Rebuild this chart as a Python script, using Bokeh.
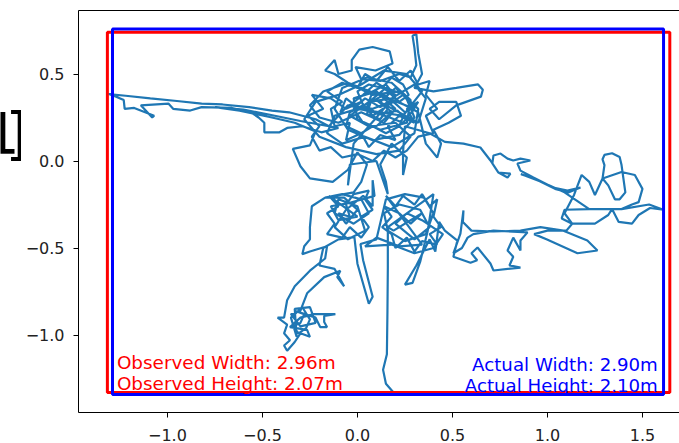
from bokeh.plotting import figure
from bokeh.layouts import row
from bokeh.models import Range1d, FixedTicker, CustomJSTickFormatter, LinearAxis
from bokeh.embed import file_html
from bokeh.resources import INLINE
from bokeh.core.properties import value

# ---- data ----
xticks = [-1.0, -0.5, 0.0, 0.5, 1.0, 1.5]
yticks = [-1.0, -0.5, 0.0, 0.5]

# observed room (red) and actual room (blue): left, bottom, width, height
obs_room = [-1.316, -1.330, 2.96, 2.07]
act_room = [-1.289, -1.342, 2.90, 2.10]

obs_labels = ["Observed Width: 2.96m", "Observed Height: 2.07m"]
act_labels = ["Actual Width: 2.90m", "Actual Height: 2.10m"]

# cropped page fragment shown at the left edge of the picture
fragment = ["1", "]"]

# trajectory, segment by segment (x, y in metres)
core = [(0.05,0.33),(0.15,0.42),(0.25,0.38),(0.30,0.25),(0.22,0.15),(0.08,0.12),(-0.05,0.18),(-0.12,0.30),
        (-0.08,0.42),(0.05,0.48),(0.18,0.45),(0.28,0.35),(0.26,0.22),(0.12,0.18),(0.00,0.24),(-0.02,0.36),
        (0.10,0.40),(0.20,0.30),(0.14,0.22),(0.02,0.28),(-0.10,0.22),(-0.20,0.25),(-0.25,0.32),(-0.18,0.40),
        (-0.05,0.45),(0.08,0.38),(0.22,0.40),(0.32,0.30),(0.30,0.16),(0.18,0.08),(0.04,0.14),(-0.08,0.10),
        (-0.16,0.16),(-0.12,0.26),(0.00,0.30),(0.12,0.28),(0.24,0.26),(0.34,0.40),(0.26,0.50),(0.14,0.52),
        (0.02,0.44),(-0.10,0.38),(-0.22,0.34),(-0.28,0.24),(-0.20,0.14),(-0.06,0.08),(0.10,0.04),(0.22,0.06),
        (0.28,0.14),(0.20,0.22),(0.06,0.20),(-0.04,0.26),(0.06,0.34),(0.18,0.36),(0.30,0.44),(0.36,0.36),
        (0.32,0.22)]
core2 = [(0.10,0.35),(0.16,0.30),(0.12,0.24),(0.05,0.27),(0.07,0.34),(0.14,0.38),(0.20,0.33),(0.25,0.28),
         (0.22,0.20),(0.15,0.16),(0.08,0.20),(0.02,0.16),(-0.06,0.20),(-0.04,0.28),(0.03,0.32),(0.00,0.40),
         (0.06,0.44),(0.13,0.42),(0.18,0.48),(0.24,0.44),(0.27,0.38),(0.22,0.34),(0.16,0.40),(0.10,0.45),
         (0.03,0.38),(-0.03,0.33),(-0.09,0.28),(-0.06,0.36),(0.01,0.30),(0.09,0.28),(0.17,0.25),(0.24,0.22),
         (0.30,0.30),(0.27,0.36),(0.20,0.42),(0.12,0.34),(0.18,0.28),(0.10,0.20),(0.03,0.22),(-0.02,0.30),
         (0.04,0.36),(0.12,0.31),(0.20,0.37),(0.15,0.44),(0.08,0.40),(0.05,0.31),(0.11,0.27),(0.21,0.29),
         (0.26,0.24),(0.32,0.34)]
core3 = [(0.26,0.30),(0.30,0.22),(0.22,0.26),(0.16,0.20),(0.20,0.12),(0.12,0.15),(0.06,0.08),(0.02,0.16),
         (-0.06,0.12),(-0.04,0.22),(-0.12,0.20),(-0.14,0.30),(-0.08,0.34),(-0.16,0.40),(-0.08,0.45),
         (0.00,0.42),(0.04,0.50),(0.10,0.46),(0.16,0.54),(0.22,0.46),(0.28,0.52),(0.32,0.44),(0.38,0.46),
         (0.36,0.38),(0.42,0.30),(0.36,0.26),(0.40,0.16),(0.32,0.14),(0.26,0.06),(0.20,0.02),(0.14,0.06),
         (0.08,0.00),(0.00,0.04),(-0.08,0.02),(-0.14,0.08),(-0.20,0.06),(-0.24,0.14),(-0.20,0.20),
         (-0.26,0.26),(-0.18,0.30),(-0.24,0.38),(-0.14,0.36),(-0.06,0.30),(0.02,0.34),(0.08,0.26),
         (0.16,0.32),(0.24,0.38),(0.30,0.30)]
top = [(-0.05,0.45),(-0.12,0.50),(-0.17,0.52),(-0.12,0.58),(-0.10,0.50),(-0.03,0.52),(-0.03,0.58),(0.01,0.64),
       (0.08,0.655),(0.17,0.63),(0.185,0.56),(0.095,0.52),(-0.01,0.54),(0.02,0.47),(0.12,0.46),(0.22,0.50),
       (0.28,0.48),(0.31,0.55),(0.30,0.65),(0.29,0.72),(0.31,0.73),(0.32,0.62),(0.34,0.50),(0.30,0.42)]
rloop = [(0.40,0.40),(0.52,0.42),(0.635,0.44),(0.66,0.41),(0.65,0.37),(0.52,0.32),(0.43,0.24),(0.38,0.30),
         (0.43,0.34),(0.52,0.34),(0.545,0.26),(0.48,0.22),(0.40,0.18),(0.44,0.10),(0.42,0.02),(0.36,0.10),
         (0.32,0.28),(0.20,0.35),(0.08,0.30),(-0.05,0.32),(-0.15,0.20),(-0.22,0.24)]
larm = [(-0.29,0.26),(-0.36,0.28),(-0.45,0.29),(-0.57,0.31),(-0.71,0.325),(-0.82,0.33),(-0.95,0.345),
        (-1.09,0.36),(-1.22,0.375),(-1.31,0.385),(-1.27,0.37),(-1.23,0.35),(-1.225,0.30),(-1.175,0.305),
        (-1.07,0.26),(-1.08,0.25),(-1.14,0.32),(-0.995,0.33),(-0.97,0.30),(-0.88,0.29),(-0.82,0.31),
        (-0.66,0.305),(-0.56,0.28),(-0.52,0.25),(-0.49,0.22),(-0.49,0.165),(-0.41,0.165),(-0.37,0.19),
        (-0.29,0.20),(-0.19,0.165),(-0.10,0.19),(-0.30,0.23),(-0.48,0.27),(-0.60,0.295),(-0.75,0.31),
        (-0.62,0.29),(-0.45,0.25),(-0.33,0.22),(-0.22,0.17)]
ll = [(-0.25,0.09),(-0.34,0.07),(-0.30,-0.03),(-0.25,-0.10),(-0.13,-0.12),(-0.05,-0.05),(0.0,0.05),
      (0.05,-0.02),(0.02,-0.12),(-0.02,-0.18)]
b1 = [(-0.17,-0.21),(-0.08,-0.19),(0.02,-0.22),(0.06,-0.30),(-0.02,-0.36),(-0.12,-0.30),(-0.10,-0.22),
      (0.00,-0.26),(0.04,-0.40),(-0.05,-0.45),(-0.12,-0.38),(-0.06,-0.28),(0.03,-0.20),(0.08,-0.26),
      (0.08,-0.11),(0.09,-0.20),(-0.04,-0.24),(-0.14,-0.26),(-0.10,-0.34),(0.00,-0.32)]
b1x = [(-0.15,-0.20),(-0.10,-0.26),(-0.16,-0.30),(-0.12,-0.36),(-0.16,-0.42),(-0.08,-0.44),(-0.04,-0.38),
       (0.02,-0.44),(0.06,-0.38),(0.02,-0.32),(0.08,-0.28),(0.04,-0.22),(0.06,-0.17),(-0.02,-0.19),
       (-0.06,-0.25),(-0.04,-0.32),(-0.10,-0.30),(-0.06,-0.36),(0.00,-0.28),(-0.07,-0.21),(-0.17,-0.21)]
lla = [(-0.24,-0.26),(-0.25,-0.38),(-0.25,-0.45),(-0.28,-0.49),(-0.29,-0.535),(-0.25,-0.52),(-0.16,-0.49),
       (-0.17,-0.56),(-0.25,-0.63),(-0.33,-0.72),(-0.37,-0.80),(-0.386,-0.90),(-0.42,-0.90),(-0.37,-0.94),
       (-0.386,-0.99),(-0.355,-1.03),(-0.386,-1.06),(-0.37,-1.09),(-0.33,-1.04),(-0.30,-0.99),(-0.25,-1.01),
       (-0.265,-0.97),(-0.355,-0.954),(-0.30,-0.90),(-0.23,-0.88),(-0.116,-0.88),(-0.175,-0.89),
       (-0.175,-0.925),(-0.16,-0.954),(-0.196,-0.954),(-0.22,-0.90)]
llx = [(-0.33,-0.86),(-0.28,-0.88),(-0.30,-0.93),(-0.34,-0.95),(-0.31,-0.99),(-0.27,-0.96),(-0.25,-0.91),
       (-0.29,-0.84),(-0.35,-0.90),(-0.32,-1.01),(-0.33,-0.85),(-0.25,-0.84),(-0.22,-0.93),(-0.30,-0.95),
       (-0.35,-0.88),(-0.30,-0.86)]
llb = [(-0.265,-0.76),(-0.175,-0.667),(-0.09,-0.63),(-0.106,-0.667),(-0.07,-0.72),(-0.12,-0.62),
       (-0.20,-0.60),(-0.18,-0.50),(-0.10,-0.45)]
rib = [(-0.016,-0.437),(0.0,-0.59),(0.06,-0.82),(0.08,-0.78),(0.03,-0.57),(0.016,-0.477),(0.10,-0.45)]
b2 = [(0.15,-0.22),(0.25,-0.19),(0.35,-0.21),(0.40,-0.30),(0.36,-0.42),(0.25,-0.46),(0.16,-0.40),
      (0.14,-0.30),(0.22,-0.25),(0.33,-0.28),(0.38,-0.38),(0.30,-0.45),(0.20,-0.36),(0.26,-0.30),
      (0.34,-0.34),(0.45,-0.42),(0.40,-0.50),(0.30,-0.53),(0.18,-0.48),(0.04,-0.49),(0.10,-0.44),
      (0.22,-0.49),(0.34,-0.48)]
b2x = [(0.15,-0.20),(0.20,-0.26),(0.24,-0.20),(0.30,-0.25),(0.34,-0.19),(0.38,-0.26),(0.42,-0.22),
       (0.40,-0.32),(0.44,-0.38),(0.38,-0.42),(0.42,-0.48),(0.34,-0.46),(0.30,-0.52),(0.26,-0.44),
       (0.20,-0.50),(0.18,-0.42),(0.13,-0.38),(0.18,-0.32),(0.14,-0.26),(0.22,-0.30),(0.28,-0.36),
       (0.34,-0.30),(0.19,-0.40)]
vert_down = [(0.16,-0.38),(0.16,-0.61),(0.158,-0.86),(0.155,-1.11),(0.135,-1.20),(0.15,-1.28),(0.19,-1.33)]
rsp = [(0.40,-0.19),(0.37,-0.40),(0.33,-0.58),(0.29,-0.70),(0.25,-0.71),(0.31,-0.60),(0.38,-0.45),
       (0.41,-0.52),(0.43,-0.35),(0.46,-0.40)]
lr = [(0.526,-0.457),(0.505,-0.55),(0.595,-0.585),(0.63,-0.57),(0.60,-0.53),(0.632,-0.497),(0.70,-0.589),
      (0.716,-0.629),(0.858,-0.612),(0.80,-0.60),(0.82,-0.55),(0.79,-0.514),(0.82,-0.44),(0.858,-0.514),
      (0.858,-0.457),(0.895,-0.41),(0.716,-0.40),(0.61,-0.42),(0.58,-0.44),(0.55,-0.50),(0.505,-0.53),
      (0.542,-0.417),(0.558,-0.284),(0.555,-0.35),(0.60,-0.40),(0.716,-0.405),(0.858,-0.40),(0.963,-0.38),
      (1.084,-0.40),(1.21,-0.457),(1.263,-0.514),(1.158,-0.53),(0.995,-0.45),(0.93,-0.42),(1.00,-0.40),
      (1.10,-0.40)]
rc = [(1.13,-0.36),(1.075,-0.33),(1.09,-0.28),(1.22,-0.276),(1.39,-0.276),(1.535,-0.25),(1.61,-0.28),
      (1.54,-0.27),(1.48,-0.31),(1.445,-0.36),(1.375,-0.35),(1.34,-0.276),(1.32,-0.31),(1.25,-0.36),
      (1.13,-0.36),(1.09,-0.30),(1.14,-0.195),(1.18,-0.08),(1.22,-0.12),(1.25,-0.195),(1.29,-0.10),
      (1.30,-0.023),(1.29,0.01),(1.30,0.035),(1.34,0.045),(1.38,0.023),(1.39,-0.023),(1.41,-0.18),
      (1.38,-0.22),(1.355,-0.22),(1.32,-0.14),(1.29,-0.10),(1.39,-0.063),(1.46,-0.08),(1.50,-0.16),
      (1.48,-0.236),(1.445,-0.25),(1.39,-0.276),(1.22,-0.276),(1.09,-0.18),(0.97,-0.12),(0.86,-0.075),
      (0.93,-0.10),(1.04,-0.16),(1.11,-0.18),(1.174,-0.152)]
gt = [(1.105,-0.17),(1.03,-0.152),(0.926,-0.095),(0.858,-0.055),(0.842,-0.014),(0.91,0.003),(0.858,0.014),
      (0.82,0.003),(0.79,0.014),(0.753,0.043),(0.716,0.032),(0.71,-0.014),(0.742,-0.066),(0.805,-0.072),
      (0.79,-0.095),(0.742,-0.066),(0.70,0.003),(0.647,0.078),(0.558,0.10),(0.46,0.11),(0.38,0.16),
      (0.25,0.20)]
end = [(0.24,0.05),(0.24,-0.08),(0.26,0.02),(0.18,0.10),(0.12,-0.02),(0.15,-0.12),(0.16,-0.19),
       (0.10,0.00),(-0.04,-0.02),(-0.05,-0.14),(-0.02,0.10),(0.10,0.25),(0.20,0.38),(0.10,0.45)]

path = (core + core2 + core3 + top + rloop + larm + ll + b1 + b1x + lla + llx + llb + rib + b2 + b2x
        + vert_down + vert_down[::-1] + rsp + lr + rc + gt + end)
traj_x = [pt[0] for pt in path]
traj_y = [pt[1] for pt in path]

FONT = "DejaVu Sans"
STRIP_W = 21
H = 443

# ---- narrow strip at the left holding the cropped "1]" fragment ----
strip = figure(width=STRIP_W, height=H, output_backend="svg", toolbar_location=None, title=None,
               x_range=Range1d(0, STRIP_W), y_range=Range1d(0, H),
               x_axis_location=None, y_axis_location=None,
               min_border_left=0, min_border_right=0, min_border_top=0, min_border_bottom=0)
strip.outline_line_color = None
strip.grid.visible = False
strip.background_fill_color = "white"
strip.border_fill_color = "white"
strip.text(x=[-17, 5], y=[H - 135, H - 135], text=fragment, text_font=value(FONT),
           text_font_size="57px", text_color="black", text_align="left",
           text_baseline="alphabetic")

# ---- main chart ----
p = figure(width=679 - STRIP_W, height=H, output_backend="svg", toolbar_location=None,
           x_range=Range1d(-1.468, 1.695), y_range=Range1d(-1.445, 0.865),
           min_border_left=78 - STRIP_W, min_border_right=0, min_border_top=10, min_border_bottom=31)
p.background_fill_color = "white"
p.border_fill_color = "white"
p.outline_line_color = None
p.grid.visible = False

fmt = CustomJSTickFormatter(code="return tick.toFixed(1).replace('-', '\u2212');")
for ax, ticks in ((p.xaxis, xticks), (p.yaxis, yticks)):
    ax.ticker = FixedTicker(ticks=ticks)
    ax.formatter = fmt
    ax.minor_tick_line_color = None
    ax.major_tick_in = 0
    ax.major_tick_out = 5
    ax.major_tick_line_color = "black"
    ax.axis_line_color = "black"
    ax.major_label_text_font = FONT
    ax.major_label_text_font_size = "16px"
    ax.major_label_text_color = "#222222"
p.xaxis.major_label_standoff = 11
p.yaxis.major_label_standoff = 9

# top spine
top_spine = LinearAxis(ticker=FixedTicker(ticks=[]), axis_line_color="black",
                       major_tick_line_color=None, minor_tick_line_color=None)
p.add_layout(top_spine, "above")

p.line(traj_x, traj_y, line_color="#1f77b4", line_width=2.2)

ol, ob, ow, oh = obs_room
al, ab, aw, ah = act_room
p.quad(left=[ol], right=[ol + ow], bottom=[ob], top=[ob + oh], fill_alpha=0,
       line_color="red", line_width=3)
p.quad(left=[al], right=[al + aw], bottom=[ab], top=[ab + ah], fill_alpha=0,
       line_color="blue", line_width=3)

line_gap = 0.121
p.text(x=[ol + 0.05, ol + 0.05], y=[ob + 0.05 + line_gap, ob + 0.05], text=obs_labels,
       text_font=value(FONT), text_font_size="18.4px", text_color="red",
       text_align="left", text_baseline="alphabetic")
p.text(x=[al + aw - 0.03, al + aw - 0.03], y=[ab + 0.05 + line_gap, ab + 0.05], text=act_labels,
       text_font=value(FONT), text_font_size="18.2px", text_color="blue",
       text_align="right", text_baseline="alphabetic")

layout = row(strip, p, spacing=0)
open("out.html", "w").write(file_html(layout, INLINE))
